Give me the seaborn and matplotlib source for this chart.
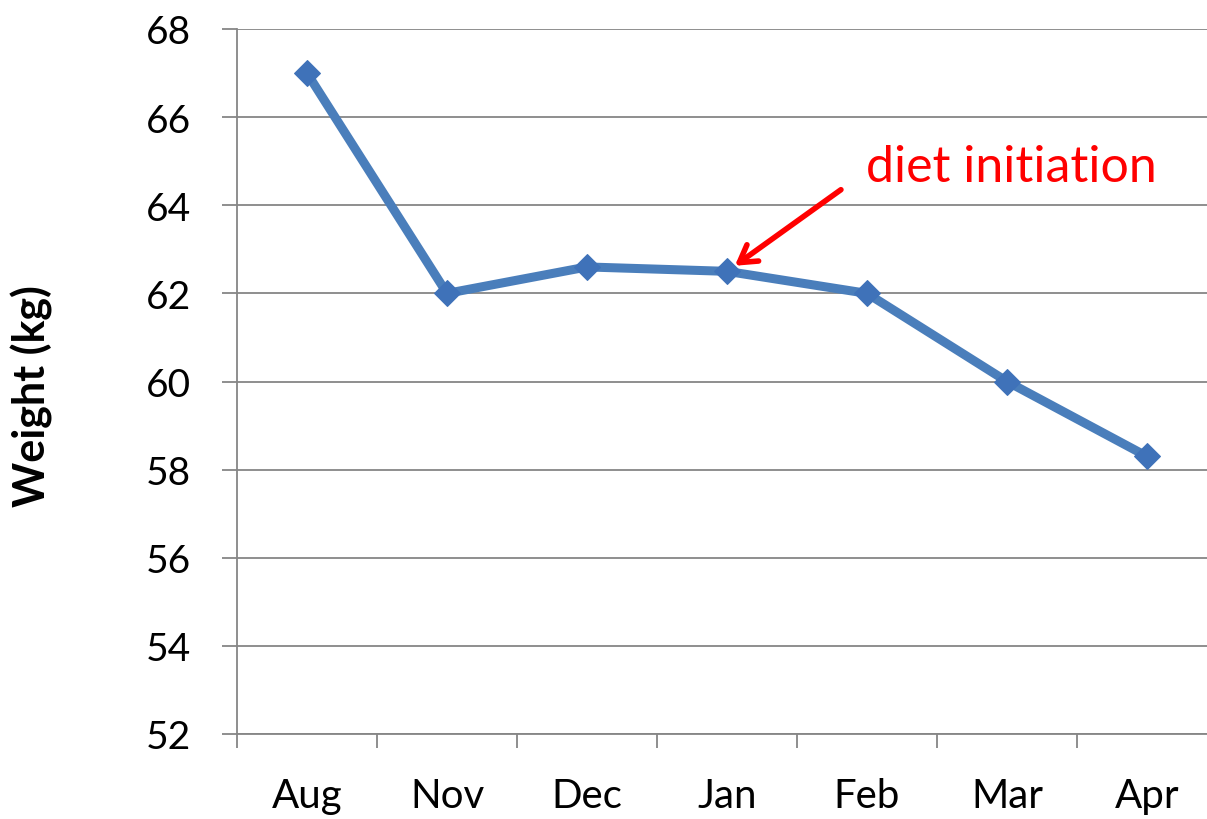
import numpy as np
import pandas as pd
import seaborn as sns
import matplotlib.pyplot as plt
from matplotlib.ticker import FixedLocator

months = ["Aug", "Nov", "Dec", "Jan", "Feb", "Mar", "Apr"]
weights = [67.0, 62.0, 62.6, 62.5, 62.0, 60.0, 58.3]
y_ticks = [52, 54, 56, 58, 60, 62, 64, 66, 68]

df = pd.DataFrame({"month": months, "weight": weights})

sns.set_theme(style="white")
plt.rcParams['font.family'] = ['Lato', 'DejaVu Sans']

grid_gray = "#868686"
line_blue = "#4a7ebb"

fig = plt.figure(figsize=(12.07, 8.2), dpi=100)
# axes placed in pixel terms of the reference; right edge runs past the figure
ax = fig.add_axes([237 / 1207, 85 / 820, 980 / 1207, 705 / 820])

sns.lineplot(
    data=df, x="month", y="weight", sort=False, ax=ax,
    color=line_blue, linewidth=6.5, marker="D", markersize=13,
    markerfacecolor="#3f72b9", markeredgecolor="#3f72b9",
)

ax.set_xlim(-0.5, len(months) - 0.5)
ax.set_ylim(52, 68)
ax.set_yticks(y_ticks)
ax.set_xticks(range(len(months)))
ax.set_xticklabels(months)
ax.xaxis.set_minor_locator(FixedLocator(np.arange(-0.5, len(months), 1.0)))

ax.yaxis.grid(True, color=grid_gray, linewidth=1.3)
ax.xaxis.grid(False)
ax.set_axisbelow(True)

for side in ["top", "right"]:
    ax.spines[side].set_visible(False)
for side in ["left", "bottom"]:
    ax.spines[side].set_color(grid_gray)
    ax.spines[side].set_linewidth(1.3)

ax.tick_params(axis="y", which="major", left=True, length=11, width=1.3,
               color=grid_gray, labelsize=28, pad=22, labelcolor="black")
ax.tick_params(axis="x", which="major", bottom=True, length=0, labelsize=29,
               pad=31, labelcolor="black")
ax.tick_params(axis="x", which="minor", bottom=True, length=10, width=1.3,
               color=grid_gray, direction="out")

ax.set_xlabel("")
ax.set_ylabel("Weight (kg)", fontsize=31, fontweight="bold", color="black")
ax.yaxis.set_label_coords(53 / 1207, 0.517, transform=fig.transFigure)

ax.annotate(
    "", xy=(3.04, 62.59), xytext=(3.83, 64.39),
    arrowprops=dict(arrowstyle="->, head_length=1.0, head_width=0.6",
                    color="red", lw=4),
)
ax.text(3.99, 64.87, "diet initiation", color="red", fontsize=36,
        ha="left", va="center")

fig.savefig("out.png", dpi=100)
